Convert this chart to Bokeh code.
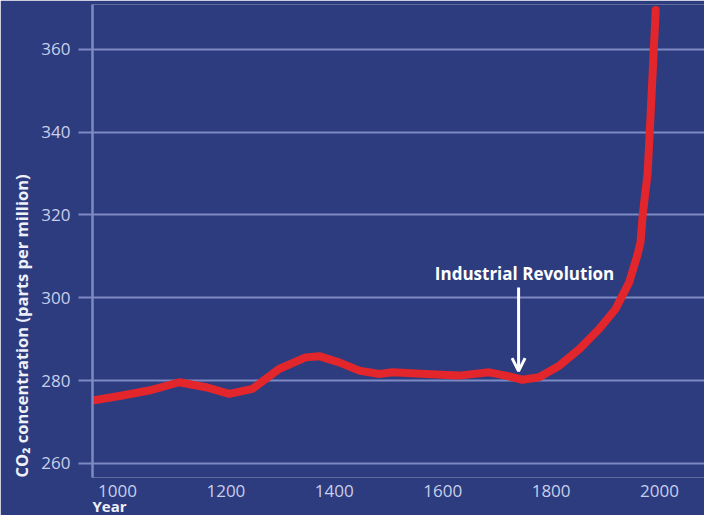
from bokeh.plotting import figure
from bokeh.models import Label, Arrow, OpenHead, FixedTicker, Title
from bokeh.embed import file_html
from bokeh.resources import INLINE

# Data
years = [954, 1009, 1058, 1114, 1163, 1206, 1249, 1298, 1347, 1372, 1409, 1446,
         1483, 1507, 1569, 1630, 1686, 1716, 1747, 1778, 1815, 1852, 1889, 1919,
         1944, 1959, 1965, 1969, 1978, 1982, 1993]
co2 = [275.2, 276.4, 277.6, 279.6, 278.4, 276.8, 278.0, 282.8, 285.6, 285.9, 284.4, 282.4,
       281.6, 282.0, 281.6, 281.2, 282.0, 281.2, 280.2, 280.8, 283.6, 287.6, 292.5, 297.3,
       303.7, 310.2, 313.4, 320.0, 330.0, 340.0, 369.5]
x_ticks = [1000, 1200, 1400, 1600, 1800, 2000]
y_ticks = [260, 280, 300, 320, 340, 360]
annotation_text = "Industrial Revolution"
annotation_year = 1740
y_label = "CO\u2082 concentration (parts per million)"
x_label = "Year"

BG = "#2c3c7e"
GRID = "#7c89c2"
TICK_TXT = "#c9cfec"
RED = "#e3262b"
FONT = "Open Sans"

p = figure(width=704, height=515, output_backend="svg", toolbar_location=None,
           x_range=(953.9, 2083.0), y_range=(256.6, 370.8),
           min_border_left=92, min_border_right=0, min_border_top=4, min_border_bottom=38)
p.background_fill_color = BG
p.border_fill_color = BG
p.outline_line_color = None

p.xgrid.grid_line_color = None
p.ygrid.grid_line_color = GRID
p.ygrid.grid_line_width = 2
p.ygrid.ticker = FixedTicker(ticks=y_ticks)

# y axis
ya = p.yaxis[0]
ya.ticker = FixedTicker(ticks=y_ticks)
ya.axis_line_color = GRID
ya.axis_line_width = 2.5
ya.major_tick_out = 14
ya.major_tick_in = 0
ya.major_tick_line_color = GRID
ya.major_tick_line_width = 2
ya.minor_tick_line_color = None
ya.major_label_standoff = 8
ya.major_label_text_font = FONT
ya.major_label_text_font_size = "17px"
ya.major_label_text_color = TICK_TXT

# x axis
xa = p.xaxis[0]
xa.ticker = FixedTicker(ticks=x_ticks)
xa.axis_line_color = None
xa.major_tick_line_color = None
xa.minor_tick_line_color = None
xa.major_label_standoff = 1
xa.major_label_text_font = FONT
xa.major_label_text_font_size = "17px"
xa.major_label_text_color = TICK_TXT

p.line(years, co2, line_color=RED, line_width=8, line_cap="round", line_join="round")

p.add_layout(Arrow(end=OpenHead(size=13, line_color="white", line_width=3),
                   x_start=annotation_year, y_start=302.5,
                   x_end=annotation_year, y_end=282.3,
                   line_color="white", line_width=3))
p.add_layout(Label(x=annotation_year + 11, y=305.8, text=annotation_text,
                   text_align="center", text_baseline="middle",
                   text_font=FONT, text_font_style="bold",
                   text_font_size="17px", text_color="white"))

yt = Title(text=y_label, align="left", text_font=FONT, text_font_style="bold",
           text_font_size="16.5px", text_color="#eef0fa", standoff=12, offset=0)
p.add_layout(yt, "left")
xt = Title(text=x_label, align="left", text_font=FONT, text_font_style="bold",
           text_font_size="15px", text_color="#eef0fa", standoff=-11, offset=0)
p.add_layout(xt, "below")

open("out.html", "w").write(file_html(p, INLINE))
